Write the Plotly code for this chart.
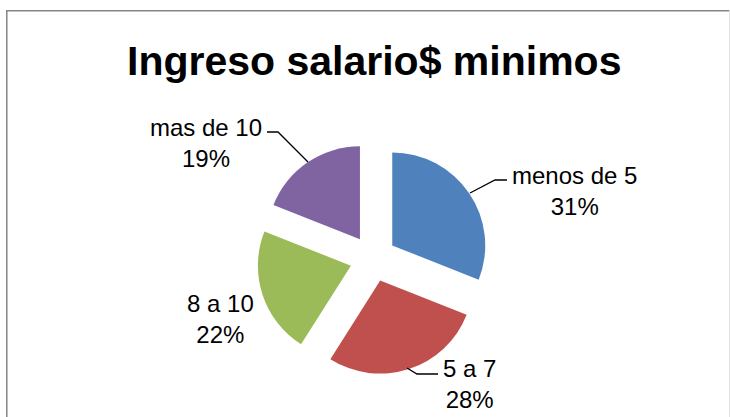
import plotly.graph_objects as go

# Income bands (in minimum salaries) and their share of respondents
categories = ["menos de 5", "5 a 7", "8 a 10", "mas de 10"]
shares = [31, 28, 22, 19]
colors = ["#4F81BD", "#C0504D", "#9BBB59", "#8064A2"]

W, H = 730, 417


def px(x):
    return x / W


def py(y):
    return 1 - y / H


total = sum(shares)
percent_text = [f"{round(v / total * 100)}%" for v in shares]

fig = go.Figure(
    go.Pie(
        labels=categories,
        values=shares,
        sort=False,
        direction="clockwise",
        rotation=0,
        pull=[0.25] * len(shares),
        marker=dict(colors=colors, line=dict(width=0)),
        textinfo="none",
        textposition="none",
        hoverinfo="label+percent",
        showlegend=False,
        domain=dict(x=[px(223), px(523)], y=[py(374.75), py(142.25)]),
    )
)

# Category labels placed around the exploded pie
label_pos = {
    "menos de 5": (574, 191),
    "5 a 7": (469, 384),
    "8 a 10": (221, 319),
    "mas de 10": (206, 143),
}
annotations = []
for cat, pct in zip(categories, percent_text):
    x, y = label_pos[cat]
    annotations.append(
        dict(
            x=px(x), y=py(y), xref="paper", yref="paper",
            text=f"{cat}<br>{pct}", showarrow=False,
            xanchor="center", yanchor="middle", align="center",
            font=dict(family="Liberation Sans, Arial, sans-serif", size=24, color="#000000"),
        )
    )

annotations.append(
    dict(
        x=px(374), y=py(61), xref="paper", yref="paper",
        text="<b>Ingreso salario$ minimos</b>", showarrow=False,
        xanchor="center", yanchor="middle",
        font=dict(family="Liberation Sans, Arial, sans-serif", size=41, color="#000000"),
    )
)

# Leader lines from labels to their slices
leaders = [
    [(470, 193), (495, 180), (507, 180)],
    [(267, 132), (278, 132), (308, 162)],
    [(407, 368), (417, 374), (438, 374)],
]
shapes = []
for pts in leaders:
    path = "M " + " L ".join(f"{px(x)},{py(y)}" for x, y in pts)
    shapes.append(dict(type="path", xref="paper", yref="paper", path=path,
                       line=dict(color="#000000", width=1.3)))

# Chart area frame
shapes += [
    dict(type="line", xref="paper", yref="paper", x0=px(6.8), x1=px(6.8), y0=py(10), y1=py(417),
         line=dict(color="#868686", width=1.5)),
    dict(type="line", xref="paper", yref="paper", x0=px(6), x1=px(730), y0=py(10.7), y1=py(10.7),
         line=dict(color="#868686", width=1.5)),
    dict(type="line", xref="paper", yref="paper", x0=px(729.5), x1=px(729.5), y0=py(10), y1=py(417),
         line=dict(color="#E0E0E0", width=1)),
]

fig.update_layout(
    width=W, height=H, autosize=False,
    margin=dict(l=0, r=0, t=0, b=0),
    paper_bgcolor="#FFFFFF", plot_bgcolor="#FFFFFF",
    annotations=annotations, shapes=shapes,
)

fig.write_html("out.html")
